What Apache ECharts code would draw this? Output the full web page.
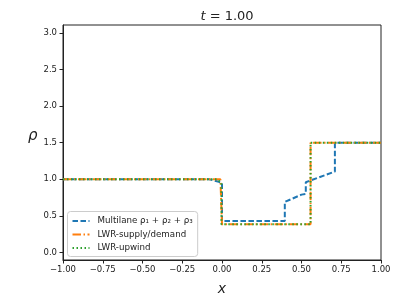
<!DOCTYPE html>
<html><head><meta charset="utf-8">
<script src="https://cdn.jsdelivr.net/npm/echarts@6/dist/echarts.min.js"></script>
<style>html,body{margin:0;padding:0;background:#fff}#c{width:416px;height:301px}</style>
</head><body><div id="c"></div>
<script>
// Data
const multilaneX = [-1.0, -0.08, -0.02, 0.0, 0.0, 0.395, 0.395, 0.50, 0.527, 0.527, 0.71, 0.71, 1.0];
const multilaneY = [1.0, 1.0, 0.965, 0.95, 0.43, 0.43, 0.69, 0.79, 0.80, 0.96, 1.105, 1.5, 1.5];
const supplyX = [-1.0, -0.01, 0.0, 0.0, 0.557, 0.557, 1.0];
const supplyY = [1.0, 1.0, 0.99, 0.385, 0.385, 1.5, 1.5];
const upwindX = [-1.0, -0.03, -0.004, -0.004, 0.557, 0.557, 1.0];
const upwindY = [1.0, 1.0, 0.95, 0.385, 0.385, 1.5, 1.5];
const yTicks = [0.0, 0.5, 1.0, 1.5, 2.0, 2.5, 3.0];
const seriesNames = ['Multilane ρ₁ + ρ₂ + ρ₃', 'LWR-supply/demand', 'LWR-upwind'];

const zip = (xs, ys) => xs.map((x, i) => [x, ys[i]]);
const font = 'DejaVu Sans';
const chart = echarts.init(document.getElementById('c'), null, {renderer: 'canvas'});
chart.setOption({
  animation: false,
  backgroundColor: '#fff',
  title: {
    text: '{i|t} = 1.00',
    left: 222, top: 5, textAlign: 'center',
    textStyle: {fontFamily: font, fontSize: 13, fontWeight: 'normal', color: '#222',
      rich: {i: {fontFamily: font, fontStyle: 'italic', fontSize: 13, color: '#222'}}}
  },
  grid: {left: 63, right: 35, top: 25, bottom: 38, show: true, borderColor: '#222', borderWidth: 1, backgroundColor: 'transparent'},
  xAxis: {
    type: 'value', min: -1, max: 1, interval: 0.25,
    name: 'x', nameLocation: 'middle', nameGap: 22,
    nameTextStyle: {fontFamily: font, fontStyle: 'italic', fontSize: 14, color: '#222'},
    axisLine: {show: true, onZero: false, lineStyle: {color: '#222', width: 1}},
    axisTick: {show: true, length: 3.5, lineStyle: {color: '#222'}},
    axisLabel: {fontFamily: font, fontSize: 8.5, color: '#222', margin: 5,
      formatter: v => (v < 0 ? '\u2212' : '') + Math.abs(v).toFixed(2)},
    splitLine: {show: false}
  },
  yAxis: {
    type: 'value', min: -0.104, max: 3.11,
    name: 'ρ', nameLocation: 'middle', nameGap: 21, nameRotate: 0,
    nameTextStyle: {fontFamily: font, fontStyle: 'italic', fontSize: 15, color: '#222', verticalAlign: 'bottom', lineHeight: 12},
    axisLine: {show: true, onZero: false, lineStyle: {color: '#222', width: 1}},
    axisTick: {show: true, length: 3.5, customValues: yTicks, lineStyle: {color: '#222'}},
    axisLabel: {fontFamily: font, fontSize: 8.5, color: '#222', margin: 6, customValues: yTicks,
      formatter: v => v.toFixed(1)},
    splitLine: {show: false}
  },
  legend: {
    orient: 'vertical', left: 67.5, top: 211.5,
    backgroundColor: 'rgba(255,255,255,0.8)', borderColor: '#ccc', borderWidth: 1, borderRadius: 3,
    padding: [5, 5, 4, 4], itemGap: 4.5, itemWidth: 17, itemHeight: 10,
    itemStyle: {opacity: 0},
    textStyle: {fontFamily: font, fontSize: 8.7, color: '#222', padding: [0, 0, 0, 3]},
    data: seriesNames
  },
  series: [
    {name: seriesNames[0], type: 'line', data: zip(multilaneX, multilaneY), showSymbol: false, symbol: 'none',
      lineStyle: {color: '#1f77b4', width: 2, type: [5.5, 2.5]}, itemStyle: {color: '#1f77b4'}, z: 2},
    {name: seriesNames[1], type: 'line', data: zip(supplyX, supplyY), showSymbol: false, symbol: 'none',
      lineStyle: {color: '#ff7f0e', width: 2, type: [8.5, 2.5, 1.5, 2.5]}, itemStyle: {color: '#ff7f0e'}, z: 3},
    {name: seriesNames[2], type: 'line', data: zip(upwindX, upwindY), showSymbol: false, symbol: 'none',
      lineStyle: {color: '#2ca02c', width: 2, type: [1.5, 2.5]}, itemStyle: {color: '#2ca02c'}, z: 4}
  ]
});
</script></body></html>
